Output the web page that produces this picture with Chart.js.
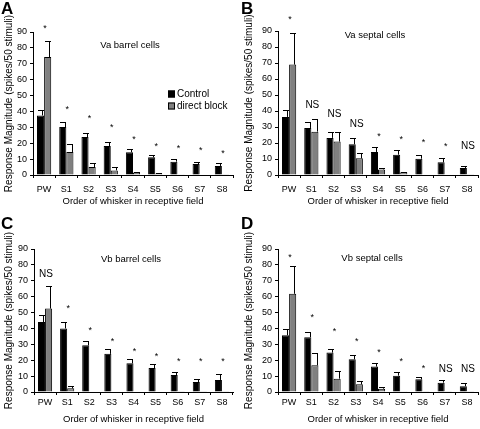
<!DOCTYPE html>
<html>
<head>
<meta charset="utf-8">
<script src="https://cdn.jsdelivr.net/npm/chart.js@4.4.1/dist/chart.umd.min.js"></script>
<style>
  body{margin:0;background:#fff;width:480px;height:429px;position:relative;overflow:hidden}
  canvas{position:absolute}
</style>
</head>
<body>
<canvas id="cA" width="240" height="215" style="left:0;top:0"></canvas>
<canvas id="cB" width="240" height="215" style="left:240px;top:0"></canvas>
<canvas id="cC" width="240" height="214" style="left:0;top:215px"></canvas>
<canvas id="cD" width="240" height="214" style="left:240px;top:215px"></canvas>
<script>
// categories
const whiskers = ['PW','S1','S2','S3','S4','S5','S6','S7','S8'];

// A: Va barrel cells
const vaBarrelCtrl     = [37.5, 30.2, 23.9, 18.2, 14.3, 11.1, 8.4, 6.9, 5.7];
const vaBarrelCtrlErr  = [3.6, 3.0, 2.7, 2.3, 2.3, 1.7, 1.5, 1.5, 1.6];
const vaBarrelBlock    = [74.2, 14.5, 5.0, 2.9, 1.5, 1.0, 0.5, 0.3, 0.2];
const vaBarrelBlockErr = [10.0, 5.0, 2.8, 2.1, 0.4, 0.2, 0, 0, 0];
const vaBarrelSig      = ['*','*','*','*','*','*','*','*','*'];
const vaBarrelSigAt    = [94, 43.2, 37.5, 31.7, 23.9, 19.7, 18.2, 17, 15.5];

// B: Va septal cells
const vaSeptalCtrl     = [36.3, 29.4, 23.2, 19.2, 14.4, 12.7, 10.2, 7.9, 4.4];
const vaSeptalCtrlErr  = [4.2, 4.0, 3.5, 4.0, 2.9, 3.0, 2.5, 3.0, 1.4];
const vaSeptalBlock    = [69.0, 27.1, 20.9, 10.4, 3.5, 1.7, 0.3, 0.3, 0.2];
const vaSeptalBlockErr = [19.8, 8.0, 5.8, 3.4, 1.1, 0.4, 0, 0, 0];
const vaSeptalSig      = ['*','NS','NS','NS','*','*','*','*','NS'];
const vaSeptalSigAt    = [99, 44, 38.8, 32.1, 25.7, 23.8, 22.1, 19.2, 18.4];

// C: Vb barrel cells
const vbBarrelCtrl     = [44.0, 40.0, 29.4, 24.0, 18.1, 15.1, 10.7, 6.3, 7.6];
const vbBarrelCtrlErr  = [4.5, 3.8, 3.0, 2.8, 2.6, 2.3, 1.7, 1.8, 3.5];
const vbBarrelBlock    = [52.5, 2.3, 0.3, 0.3, 0.3, 0.3, 0.2, 0.2, 0.2];
const vbBarrelBlockErr = [14.0, 1.3, 0, 0, 0, 0, 0, 0, 0];
const vbBarrelSig      = ['NS','*','*','*','*','*','*','*','*'];
const vbBarrelSigAt    = [74.6, 54.2, 40.5, 33.6, 26.9, 24, 21, 20.8, 20.6];

// D: Vb septal cells
const vbSeptalCtrl     = [35.7, 34.5, 24.8, 20.6, 16.0, 10.3, 8.0, 5.9, 3.6];
const vbSeptalCtrlErr  = [3.8, 3.5, 2.5, 2.7, 2.5, 2.3, 1.7, 1.7, 2.1];
const vbSeptalBlock    = [61.8, 16.8, 8.4, 4.8, 2.1, 0.5, 0.4, 0.2, 0.2];
const vbSeptalBlockErr = [17.2, 7.6, 4.6, 2.3, 1.1, 0, 0, 0, 0];
const vbSeptalSig      = ['*','*','*','*','*','*','*','NS','NS'];
const vbSeptalSigAt    = [86.6, 48.3, 39.9, 33.2, 26.3, 20.6, 16.4, 15.1, 15.1];

const FONT = "'Liberation Sans', Arial, sans-serif";
const GRAY = '#808080';

// error bars, significance marks, panel letter, subtitle, legend
const decorPlugin = {
  id: 'decor',
  afterDatasetsDraw(chart, args, opts){
    const {ctx, scales:{x, y}} = chart;
    ctx.save();
    ctx.strokeStyle = '#000';
    ctx.lineWidth = 1;
    chart.data.datasets.forEach((ds, di)=>{
      const meta = chart.getDatasetMeta(di);
      meta.data.forEach((bar, j)=>{
        const e = ds.err[j];
        if (!e) return;
        const w = bar.width;
        const yTop = Math.round(y.getPixelForValue(ds.data[j] + e)) + 0.5;
        const xv = Math.round(bar.x + w*0.25) + 0.5;
        ctx.beginPath();
        ctx.moveTo(xv, bar.y);
        ctx.lineTo(xv, yTop);
        ctx.moveTo(Math.round(bar.x - w*0.35), yTop);
        ctx.lineTo(Math.round(bar.x + w*0.5), yTop);
        ctx.stroke();
      });
    });
    ctx.restore();
  },
  afterDraw(chart, args, opts){
    const {ctx, scales:{x, y}} = chart;
    ctx.save();
    ctx.fillStyle = '#000';
    ctx.textAlign = 'center';
    ctx.textBaseline = 'alphabetic';
    opts.sig.forEach((s, j)=>{
      const px = x.getPixelForValue(j) + 1;
      const py = y.getPixelForValue(opts.sigAt[j]);
      if (s === '*') { ctx.font = `9px ${FONT}`; ctx.fillText(s, px, py + 5.2); }
      else { ctx.font = `10px ${FONT}`; ctx.fillText(s, px, py + 3.6); }
    });
    // panel letter
    ctx.textAlign = 'left';
    ctx.font = `bold 17px ${FONT}`;
    ctx.fillText(opts.letter, 1, 14);
    // subtitle
    ctx.textAlign = 'center';
    ctx.textBaseline = 'middle';
    ctx.font = `9.5px ${FONT}`;
    ctx.fillText(opts.subtitle, opts.subX, opts.subY);
    // legend
    if (opts.legend) {
      ctx.textAlign = 'left';
      ctx.font = `10px ${FONT}`;
      chart.data.datasets.forEach((ds, i)=>{
        const ly = opts.legend.y + i*12;
        ctx.fillStyle = ds.backgroundColor;
        ctx.fillRect(opts.legend.x, ly - 3.5, 7, 7);
        ctx.strokeStyle = '#000';
        ctx.strokeRect(opts.legend.x + 0.5, ly - 3, 6, 6);
        ctx.fillStyle = '#000';
        ctx.fillText(ds.label, opts.legend.x + 9, ly + 0.5);
      });
    }
    ctx.restore();
  }
};

function makePanel(id, ctrl, ctrlErr, block, blockErr, sig, sigAt, lay){
  return new Chart(document.getElementById(id), {
    type: 'bar',
    data: {
      labels: whiskers,
      datasets: [
        { label: 'Control', data: ctrl, err: ctrlErr, backgroundColor: '#000', borderColor: '#000', borderWidth: 1 },
        { label: 'direct block', data: block, err: blockErr, backgroundColor: GRAY, borderColor: '#000', borderWidth: 1 }
      ]
    },
    options: {
      responsive: false,
      animation: false,
      events: [],
      layout: { padding: { top: lay.top, right: lay.right, left: 0, bottom: 0 } },
      datasets: { bar: { categoryPercentage: 0.64, barPercentage: 1 } },
      scales: {
        x: {
          grid: { drawOnChartArea: false, color: '#000', tickLength: 3 },
          border: { color: '#000' },
          ticks: { color: '#000', font: { family: FONT, size: 9 }, padding: lay.tickPad, maxRotation: 0 },
          title: { display: true, text: 'Order of whisker in receptive field', color: '#000',
                   font: { family: FONT, size: 9.5 }, padding: { top: 0, bottom: lay.titlePad } },
          afterFit: s => { s.height = lay.xh; }
        },
        y: {
          min: 0, max: 90,
          grid: { drawOnChartArea: false, color: '#000', tickLength: 3 },
          border: { color: '#000' },
          ticks: { stepSize: 10, color: '#000', font: { family: FONT, size: 9 }, padding: 3 },
          title: { display: true, text: 'Response Magnitude (spikes/50 stimuli)', color: '#000',
                   font: { family: FONT, size: 10 }, padding: { top: 3, bottom: 0 } },
          afterFit: s => { s.width = lay.yw; }
        }
      },
      plugins: {
        legend: { display: false },
        tooltip: { enabled: false },
        decor: { sig, sigAt, letter: lay.letter, subtitle: lay.subtitle, subX: lay.subX, subY: lay.subY, legend: lay.legend }
      }
    },
    plugins: [decorPlugin]
  });
}

makePanel('cA', vaBarrelCtrl, vaBarrelCtrlErr, vaBarrelBlock, vaBarrelBlockErr, vaBarrelSig, vaBarrelSigAt,
  { top: 32, right: 7, yw: 33, xh: 40, tickPad: 6, titlePad: 8, letter: 'A', subtitle: 'Va barrel cells', subX: 130, subY: 45, legend: { x: 168, y: 94 } });
makePanel('cB', vaSeptalCtrl, vaSeptalCtrlErr, vaSeptalBlock, vaSeptalBlockErr, vaSeptalSig, vaSeptalSigAt,
  { top: 31, right: 2, yw: 38, xh: 40, tickPad: 6, titlePad: 8, letter: 'B', subtitle: 'Va septal cells', subX: 135, subY: 35 });
makePanel('cC', vbBarrelCtrl, vbBarrelCtrlErr, vbBarrelBlock, vbBarrelBlockErr, vbBarrelSig, vbBarrelSigAt,
  { top: 34, right: 7, yw: 34, xh: 37, tickPad: 2, titlePad: 4, letter: 'C', subtitle: 'Vb barrel cells', subX: 131, subY: 44 });
makePanel('cD', vbSeptalCtrl, vbSeptalCtrlErr, vbSeptalBlock, vbSeptalBlockErr, vbSeptalSig, vbSeptalSigAt,
  { top: 34, right: 2, yw: 38, xh: 37, tickPad: 2, titlePad: 4, letter: 'D', subtitle: 'Vb septal cells', subX: 132, subY: 43 });
</script>
</body>
</html>
